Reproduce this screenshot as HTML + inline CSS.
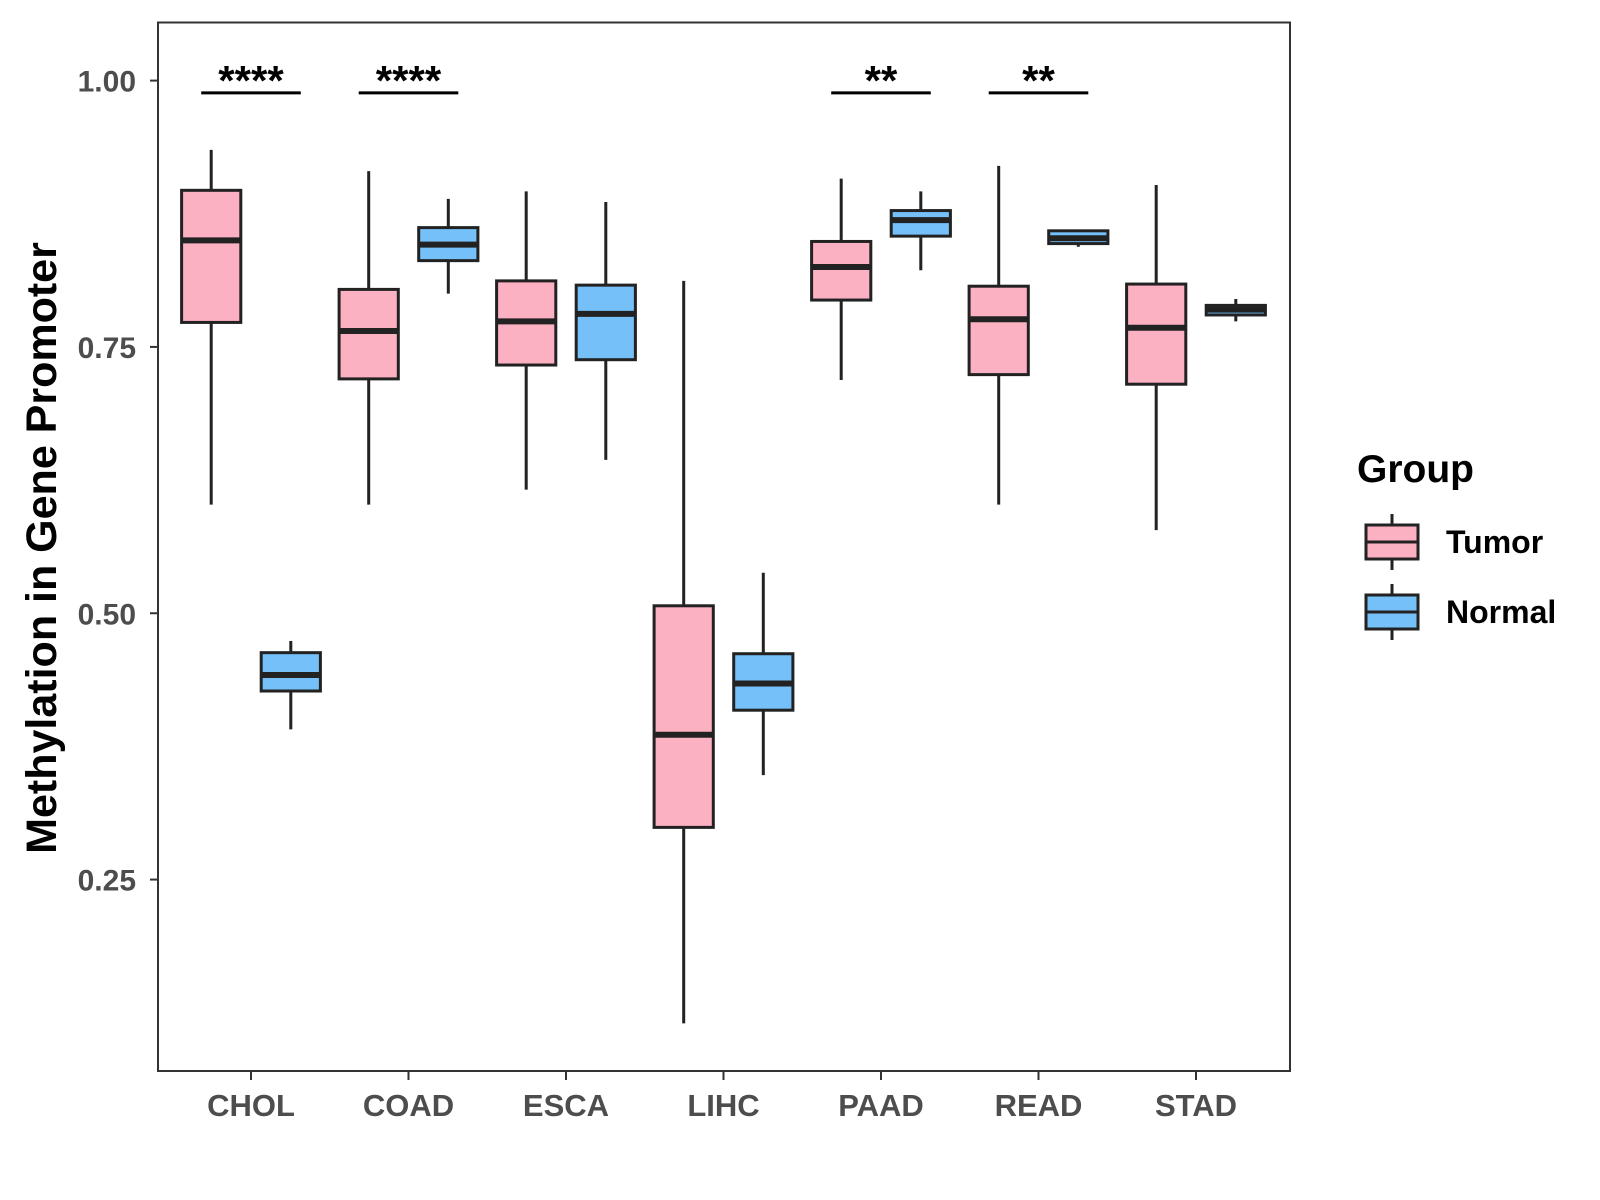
<!DOCTYPE html>
<html><head><meta charset="utf-8"><style>body{margin:0;background:#fff}svg{display:block;font-family:"Liberation Sans",Arial,sans-serif}</style></head>
<body>
<svg id="chart" width="1600" height="1200"></svg>
<script>
const categories=["CHOL","COAD","ESCA","LIHC","PAAD","READ","STAD"];
// [whiskerHigh, q3, median, q1, whiskerLow]
const tumorStats=[[0.935,0.897,0.850,0.773,0.602],[0.915,0.804,0.765,0.720,0.602],[0.896,0.812,0.774,0.733,0.616],[0.812,0.507,0.386,0.299,0.115],[0.908,0.849,0.825,0.794,0.719],[0.920,0.807,0.776,0.724,0.602],[0.902,0.809,0.768,0.715,0.578]];
const normalStats=[[0.474,0.463,0.442,0.427,0.391],[0.889,0.862,0.846,0.831,0.800],[0.886,0.808,0.781,0.738,0.644],[0.538,0.462,0.434,0.409,0.348],[0.896,0.878,0.869,0.854,0.822],[0.860,0.859,0.852,0.847,0.844],[0.795,0.789,0.785,0.780,0.774]];
const yTicks=[0.25,0.50,0.75,1.00];
const yTickLabels=["0.25","0.50","0.75","1.00"];
const sigLabels=["****","****","","","**","**",""];
const sigLevel=0.9885;

const NS="http://www.w3.org/2000/svg",svg=document.getElementById("chart");
const L=158,T=22.5,R=1290,B=1071;
const y=v=>80.6+(1-v)*1065.3;
const x=i=>251+i*157.5;
const off=39.8,hw=29.6;
function mk(t,a,p){const e=document.createElementNS(NS,t);for(const k in a)e.setAttribute(k,a[k]);(p||svg).appendChild(e);return e;}
const panel=mk("rect",{x:L,y:T,width:R-L,height:B-T,fill:"none",stroke:"#333","stroke-width":2});

yTicks.forEach((v,i)=>{
  const g=mk("g",{});
  mk("line",{x1:L-8,x2:L,y1:y(v),y2:y(v),stroke:"#333","stroke-width":2},g);
  const t=mk("text",{x:L-22,y:y(v)+11,"text-anchor":"end","font-size":30,"font-weight":"bold",fill:"#4d4d4d"},g);t.textContent=yTickLabels[i];
});
categories.forEach((c,i)=>{
  const g=mk("g",{});
  mk("line",{x1:x(i),x2:x(i),y1:B,y2:B+9,stroke:"#333","stroke-width":2},g);
  const t=mk("text",{x:x(i),y:B+45,"text-anchor":"middle","font-size":31,"font-weight":"bold",fill:"#4d4d4d"},g);t.textContent=c;
});
function box(cx,s,fill,name){
  const g=mk("g",{});
  mk("line",{x1:cx,x2:cx,y1:y(s[0]),y2:y(s[4]),stroke:"#222","stroke-width":3},g);
  mk("rect",{x:cx-hw,y:y(s[1]),width:2*hw,height:Math.max(y(s[3])-y(s[1]),0.5),fill:fill,stroke:"#222","stroke-width":3},g);
  mk("line",{x1:cx-hw,x2:cx+hw,y1:y(s[2]),y2:y(s[2]),stroke:"#222","stroke-width":6},g);
}
categories.forEach((c,i)=>{
  box(x(i)-off,tumorStats[i],"#fcb1c3","box-tumor-"+c.toLowerCase());
  box(x(i)+off,normalStats[i],"#75c0f8","box-normal-"+c.toLowerCase());
  if(sigLabels[i]){
    const g=mk("g",{});
    mk("line",{x1:x(i)-off-10,x2:x(i)+off+10,y1:y(sigLevel),y2:y(sigLevel),stroke:"#000","stroke-width":3},g);
    const t=mk("text",{x:x(i),y:y(sigLevel)+2,"text-anchor":"middle","font-size":42,"font-weight":"bold",fill:"#000"},g);t.textContent=sigLabels[i];
  }
});
const yt=mk("text",{x:0,y:0,transform:"translate(56,548) rotate(-90)","text-anchor":"middle","font-size":43,"font-weight":"bold",fill:"#000"});
yt.textContent="Methylation in Gene Promoter";
const lg=mk("g",{});
const lt=mk("text",{x:1357,y:482,"font-size":39,"font-weight":"bold",fill:"#000"},lg);lt.textContent="Group";
[["Tumor","#fcb1c3",542],["Normal","#75c0f8",612]].forEach(([n,f,cy])=>{
  const g=mk("g",{},lg);
  mk("line",{x1:1392,x2:1392,y1:cy-28,y2:cy+28,stroke:"#222","stroke-width":3},g);
  mk("rect",{x:1366,y:cy-17,width:52,height:34,fill:f,stroke:"#222","stroke-width":3},g);
  mk("line",{x1:1366,x2:1418,y1:cy,y2:cy,stroke:"#222","stroke-width":3},g);
  const t=mk("text",{x:1446,y:cy+11,"font-size":32,"font-weight":"bold",fill:"#000"},g);t.textContent=n;
});
</script>
</body></html>
